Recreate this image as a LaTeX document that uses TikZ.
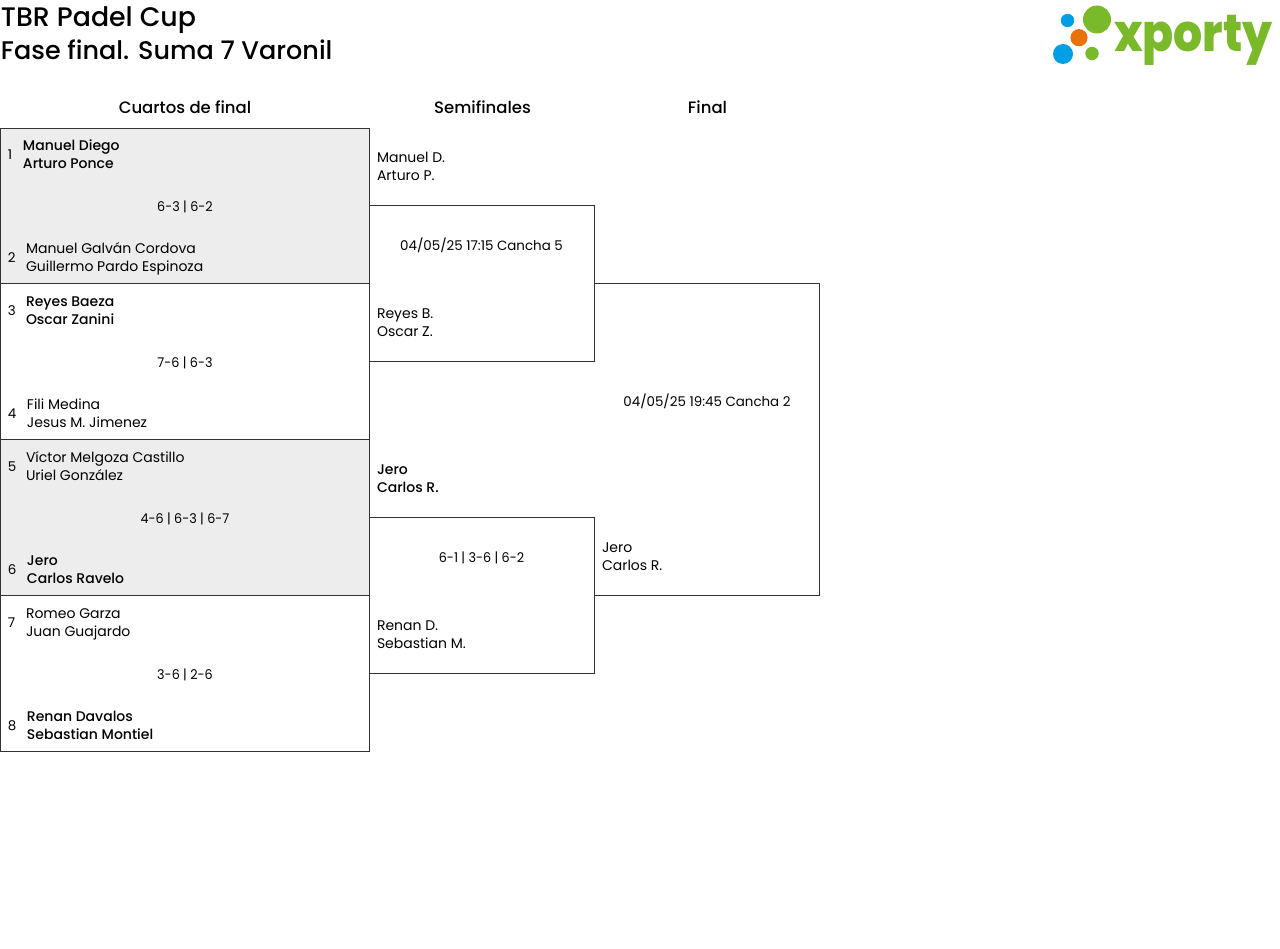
\documentclass[tikz,border=0pt]{standalone}
\usepackage{fontspec}
\setmainfont{Poppins}
\newfontfamily\medfont{Poppins Medium}
\newfontfamily\logofont{Poppins ExtraBold}
\usetikzlibrary{positioning}
\definecolor{xgreen}{HTML}{7AB929}
\definecolor{xblue}{HTML}{009FE3}
\definecolor{xorange}{HTML}{E8710A}
\newcommand{\duo}[2]{\strut #1\\\strut #2}
\tikzset{
  every node/.style={inner sep=0pt,outer sep=0pt,font=\fontsize{14}{18}\selectfont},
  title/.style={anchor=base west},
  round/.style={font=\fontsize{16.5}{20}\medfont\selectfont},
  score/.style={xscale=0.95,font=\fontsize{13.4}{18}\selectfont},
  slot/.style={font=\fontsize{13.4}{18}\selectfont},
  qfbox/.style={draw=black!80,line width=1pt,minimum width=369pt,minimum height=156pt},
  qfgrey/.style={qfbox,fill=black!7},
  bracket/.style={draw=black!80,line width=1pt},
  seed/.style={anchor=west,yshift=-1pt,font=\fontsize{13.4}{18}\selectfont},
  team/.style={anchor=west,align=left,yshift=-2pt},
  winner/.style={team,font=\fontsize{14}{18}\medfont\selectfont},
}
\begin{document}
\begin{tikzpicture}[x=1pt,y=-1pt]
\useasboundingbox (0,0) rectangle (1280,949);
% headers
\node (t1) [title,font=\fontsize{26.8}{30}\medfont\selectfont] at (1,27) {TBR Padel Cup};
\node (t2) [title,font=\fontsize{25.5}{30}\medfont\selectfont] at (1,60) {Fase final. Suma 7 Varonil};
\node (h1) [round] at (185,107) {Cuartos de final};
\node (h2) [round] at (482.5,107) {Semifinales};
\node (h3) [round] at (707.5,107) {Final};
% logo
\fill [xgreen] (1097,19.5) circle (14);
\fill [xblue] (1067.5,20.5) circle (6.7);
\fill [xorange] (1079,37.7) circle (8.6);
\fill [xblue] (1063,54) circle (10);
\fill [xgreen] (1092,53.5) circle (6.7);
\node (logo) [anchor=base west,xscale=0.88,text=xgreen,font=\fontsize{52}{52}\logofont\selectfont] at (1114,52) {xporty};
% cuartos
\node (qf1) [qfgrey,minimum height=155pt] at (185,206) {};
\node (qf2) [qfbox] at (185,361.5) {};
\node (qf3) [qfgrey] at (185,517.5) {};
\node (qf4) [qfbox] at (185,673.5) {};
\node (r1) [score] at (185,206.5) {6-3 | 6-2};
\node (r2) [score] at (185,362.5) {7-6 | 6-3};
\node (r3) [score] at (185,518.5) {4-6 | 6-3 | 6-7};
\node (r4) [score] at (185,674.5) {3-6 | 2-6};
\node (s1) [seed] at (8,154) {1};
\node (p1) [winner] at (23,154) {\duo{Manuel Diego}{Arturo Ponce}};
\node (s2) [seed] at (8,257) {2};
\node (p2) [team] at (26,257) {\duo{Manuel Galván Cordova}{Guillermo Pardo Espinoza}};
\node (s3) [seed] at (8,310) {3};
\node (p3) [winner] at (26,310) {\duo{Reyes Baeza}{Oscar Zanini}};
\node (s4) [seed] at (8,413) {4};
\node (p4) [team] at (27,413) {\duo{Fili Medina}{Jesus M. Jimenez}};
\node (s5) [seed] at (8,466) {5};
\node (p5) [team] at (26,466) {\duo{Víctor Melgoza Castillo}{Uriel González}};
\node (s6) [seed] at (8,569) {6};
\node (p6) [winner] at (27,569) {\duo{Jero}{Carlos Ravelo}};
\node (s7) [seed] at (8,622) {7};
\node (p7) [team] at (26,622) {\duo{Romeo Garza}{Juan Guajardo}};
\node (s8) [seed] at (8,725) {8};
\node (p8) [winner] at (27,725) {\duo{Renan Davalos}{Sebastian Montiel}};
% semifinales
\coordinate (sf1c) at (594.5,205.5);
\coordinate (sf1d) at (594.5,361.5);
\draw [bracket] (qf1.east |- sf1c) -- (sf1c) -- (sf1d) -- (qf2.east |- sf1d);
\coordinate (sf2c) at (594.5,517.5);
\coordinate (sf2d) at (594.5,673.5);
\draw [bracket] (qf3.east |- sf2c) -- (sf2c) -- (sf2d) -- (qf4.east |- sf2d);
\node (m1) [slot] at (481.5,245.5) {04/05/25 17:15 Cancha 5};
\node (m2) [score] at (481.5,557.5) {6-1 | 3-6 | 6-2};
\node (p9) [team] at (377,166) {\duo{Manuel D.}{Arturo P.}};
\node (p10) [team] at (377,322) {\duo{Reyes B.}{Oscar Z.}};
\node (p11) [winner] at (377,478) {\duo{Jero}{Carlos R.}};
\node (p12) [team] at (377,634) {\duo{Renan D.}{Sebastian M.}};
% final
\coordinate (fb) at (819.5,283.5);
\coordinate (fc) at (819.5,595.5);
\draw [bracket] (sf1c |- fb) -- (fb) -- (fc) -- (sf2c |- fc);
\node (m3) [slot] at (707,401.5) {04/05/25 19:45 Cancha 2};
\node (p13) [team] at (602,556) {\duo{Jero}{Carlos R.}};
\end{tikzpicture}
\end{document}
